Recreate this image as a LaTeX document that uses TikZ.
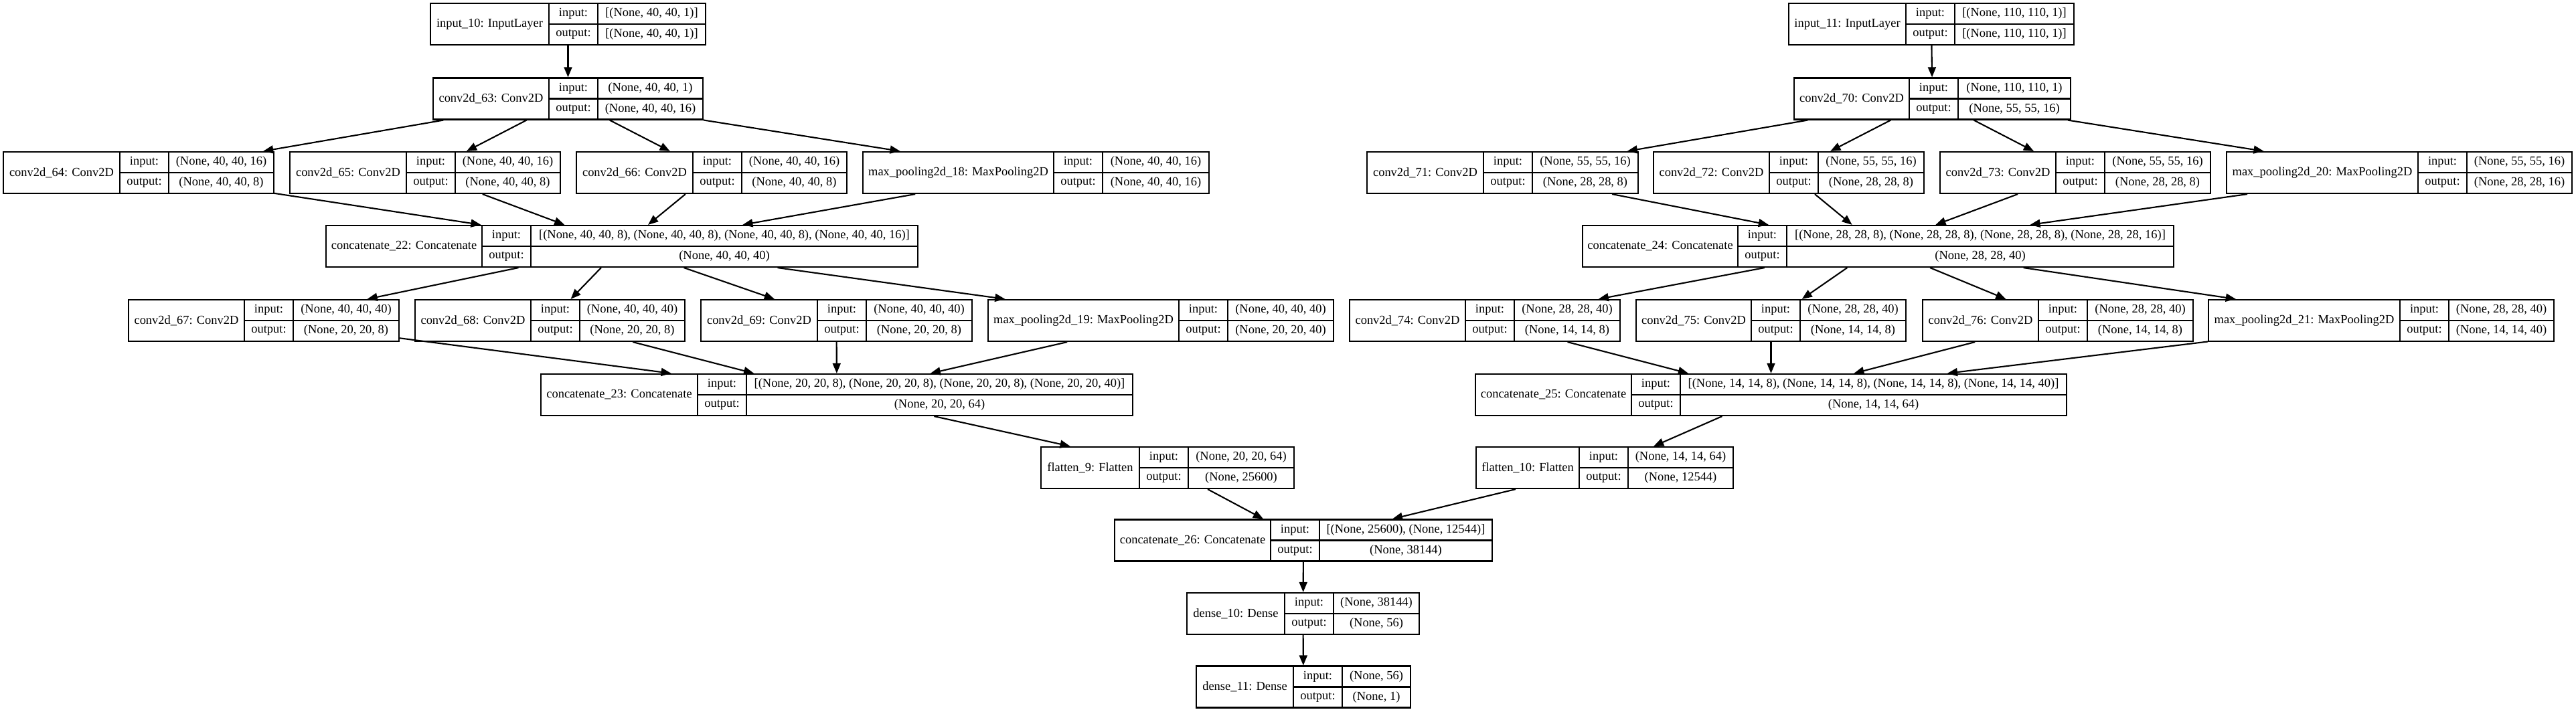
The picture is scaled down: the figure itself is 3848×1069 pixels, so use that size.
\documentclass[tikz,border=0pt]{standalone}
\usepackage{fontspec}
\setmainfont{Liberation Serif}
\usepackage{tikz}
\usetikzlibrary{arrows.meta}
\tikzset{
  layer box/.style={
    draw,
    rectangle,
    inner sep=0pt,
    minimum height=0.62cm,
    line width=0.6pt
  },
  cell line/.style={
    line width=0.6pt
  },
  cell text/.style={
    inner sep=0pt,
    font=\fontsize{5.25}{6}\selectfont
  },
  edge/.style={
    -{Triangle[length=4.3pt, width=3.4pt]},
    line width=0.6pt
  }
}
% layer: name, left, io column, right, centre y, label, input, output
\newcommand{\layer}[8]{%
  \pgfmathsetmacro{\lw}{(#4-#2)*0.01}%
  \node[layer box, minimum width=\lw cm] (#1) at ({(#2+#4)/2}, #5) {};
  \draw[cell line] (#3, #5-31) -- (#3, #5+31);
  \draw[cell line] (#3+73, #5-31) -- (#3+73, #5+31);
  \draw[cell line] (#3, #5) -- (#4, #5);
  \node[cell text] at ({(#2+#3)/2}, #5) {#6};
  \node[cell text] at (#3+36.5, #5-15.5) {input:};
  \node[cell text] at (#3+36.5, #5+15.5) {output:};
  \node[cell text] at ({(#3+73+#4)/2}, #5-15.5) {#7};
  \node[cell text] at ({(#3+73+#4)/2}, #5+15.5) {#8};
}

\begin{document}
\begin{tikzpicture}[x=0.01cm, y=-0.01cm]
    % 1 unit = 1 pixel of the plot
    \useasboundingbox (0,0) rectangle (3848,1069);

    % first input branch
    \layer{in10}{643}{820}{1054}{36}{input\_10: InputLayer}{[(None, 40, 40, 1)]}{[(None, 40, 40, 1)]}
    \layer{conv63}{647}{820}{1050}{147.5}{conv2d\_63: Conv2D}{(None, 40, 40, 1)}{(None, 40, 40, 16)}
    \layer{conv64}{5}{179}{409}{258}{conv2d\_64: Conv2D}{(None, 40, 40, 16)}{(None, 40, 40, 8)}
    \layer{conv65}{433}{607}{837}{258}{conv2d\_65: Conv2D}{(None, 40, 40, 16)}{(None, 40, 40, 8)}
    \layer{conv66}{861}{1035}{1265}{258}{conv2d\_66: Conv2D}{(None, 40, 40, 16)}{(None, 40, 40, 8)}
    \layer{pool18}{1289}{1574}{1806}{258}{max\_pooling2d\_18: MaxPooling2D}{(None, 40, 40, 16)}{(None, 40, 40, 16)}
    \layer{concat22}{487}{720}{1371}{368}{concatenate\_22: Concatenate}{[(None, 40, 40, 8), (None, 40, 40, 8), (None, 40, 40, 8), (None, 40, 40, 16)]}{(None, 40, 40, 40)}
    \layer{conv67}{192}{365}{596}{479}{conv2d\_67: Conv2D}{(None, 40, 40, 40)}{(None, 20, 20, 8)}
    \layer{conv68}{620}{793}{1023}{479}{conv2d\_68: Conv2D}{(None, 40, 40, 40)}{(None, 20, 20, 8)}
    \layer{conv69}{1047}{1221}{1452}{479}{conv2d\_69: Conv2D}{(None, 40, 40, 40)}{(None, 20, 20, 8)}
    \layer{pool19}{1476}{1761}{1992}{479}{max\_pooling2d\_19: MaxPooling2D}{(None, 40, 40, 40)}{(None, 20, 20, 40)}
    \layer{concat23}{808}{1042}{1692}{590}{concatenate\_23: Concatenate}{[(None, 20, 20, 8), (None, 20, 20, 8), (None, 20, 20, 8), (None, 20, 20, 40)]}{(None, 20, 20, 64)}
    \layer{flat9}{1555}{1702}{1933}{699}{flatten\_9: Flatten}{(None, 20, 20, 64)}{(None, 25600)}

    % second input branch
    \layer{in11}{2672}{2847}{3098}{36}{input\_11: InputLayer}{[(None, 110, 110, 1)]}{[(None, 110, 110, 1)]}
    \layer{conv70}{2680}{2852}{3093}{147.5}{conv2d\_70: Conv2D}{(None, 110, 110, 1)}{(None, 55, 55, 16)}
    \layer{conv71}{2042}{2216}{2447}{258}{conv2d\_71: Conv2D}{(None, 55, 55, 16)}{(None, 28, 28, 8)}
    \layer{conv72}{2470}{2643}{2874}{258}{conv2d\_72: Conv2D}{(None, 55, 55, 16)}{(None, 28, 28, 8)}
    \layer{conv73}{2898}{3071}{3302}{258}{conv2d\_73: Conv2D}{(None, 55, 55, 16)}{(None, 28, 28, 8)}
    \layer{pool20}{3326}{3612}{3842}{258}{max\_pooling2d\_20: MaxPooling2D}{(None, 55, 55, 16)}{(None, 28, 28, 16)}
    \layer{concat24}{2364}{2596}{3247}{368}{concatenate\_24: Concatenate}{[(None, 28, 28, 8), (None, 28, 28, 8), (None, 28, 28, 8), (None, 28, 28, 16)]}{(None, 28, 28, 40)}
    \layer{conv74}{2016}{2189}{2420}{479}{conv2d\_74: Conv2D}{(None, 28, 28, 40)}{(None, 14, 14, 8)}
    \layer{conv75}{2444}{2616}{2847}{479}{conv2d\_75: Conv2D}{(None, 28, 28, 40)}{(None, 14, 14, 8)}
    \layer{conv76}{2872}{3045}{3276}{479}{conv2d\_76: Conv2D}{(None, 28, 28, 40)}{(None, 14, 14, 8)}
    \layer{pool21}{3299}{3585}{3815}{479}{max\_pooling2d\_21: MaxPooling2D}{(None, 28, 28, 40)}{(None, 14, 14, 40)}
    \layer{concat25}{2204}{2437}{3087}{590}{concatenate\_25: Concatenate}{[(None, 14, 14, 8), (None, 14, 14, 8), (None, 14, 14, 8), (None, 14, 14, 40)]}{(None, 14, 14, 64)}
    \layer{flat10}{2205}{2359}{2589}{699}{flatten\_10: Flatten}{(None, 14, 14, 64)}{(None, 12544)}

    % merged head
    \layer{concat26}{1665}{1898}{2229}{807.5}{concatenate\_26: Concatenate}{[(None, 25600), (None, 12544)]}{(None, 38144)}
    \layer{dense10}{1773}{1919}{2120}{917}{dense\_10: Dense}{(None, 38144)}{(None, 56)}
    \layer{dense11}{1787}{1932}{2107}{1026.5}{dense\_11: Dense}{(None, 56)}{(None, 1)}

    % edges
    \draw[edge] (in10) -- (conv63);
    \foreach \n in {conv64, conv65, conv66, pool18} {
      \draw[edge] (conv63) -- (\n);
      \draw[edge] (\n) -- (concat22);
    }
    \foreach \n in {conv67, conv68, conv69, pool19} {
      \draw[edge] (concat22) -- (\n);
      \draw[edge] (\n) -- (concat23);
    }
    \draw[edge] (concat23) -- (flat9);
    \draw[edge] (in11) -- (conv70);
    \foreach \n in {conv71, conv72, conv73, pool20} {
      \draw[edge] (conv70) -- (\n);
      \draw[edge] (\n) -- (concat24);
    }
    \foreach \n in {conv74, conv75, conv76, pool21} {
      \draw[edge] (concat24) -- (\n);
      \draw[edge] (\n) -- (concat25);
    }
    \draw[edge] (concat25) -- (flat10);
    \draw[edge] (flat9) -- (concat26);
    \draw[edge] (flat10) -- (concat26);
    \draw[edge] (concat26) -- (dense10);
    \draw[edge] (dense10) -- (dense11);

  \end{tikzpicture}
\end{document}
